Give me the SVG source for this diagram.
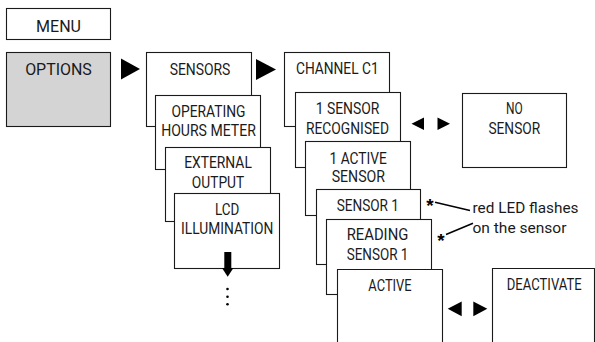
<svg xmlns="http://www.w3.org/2000/svg" width="595" height="342" viewBox="0 0 595 342">
<style>
.box{fill:#fff;stroke:#1a1a1a;stroke-width:1.1}
.gray{fill:#d4d4d4;stroke:#1a1a1a;stroke-width:1.1}
.t{font-family:Roboto,"DejaVu Sans",sans-serif;font-size:16px;fill:#1a1a1a;text-anchor:middle}
.n{font-family:Roboto,"DejaVu Sans",sans-serif;font-size:15px;fill:#1a1a1a}
.s{font-family:"Liberation Sans",Arial,sans-serif;font-size:19px;font-weight:bold;fill:#000;text-anchor:middle}
.arr{fill:#000}
.ln{stroke:#000;stroke-width:1.5;fill:none}
</style>
<rect width="595" height="342" fill="#fff"/>
<g id="menu"><rect class="box" x="6.5" y="8.5" width="104" height="31"/><text class="t" x="58.5" y="32" textLength="45" lengthAdjust="spacingAndGlyphs">MENU</text></g>
<g id="options"><rect class="gray" x="6.5" y="52.5" width="104" height="74"/><text class="t" x="58.5" y="75" textLength="66.7" lengthAdjust="spacingAndGlyphs">OPTIONS</text></g>
<g id="sensors"><rect class="box" x="146.5" y="52.5" width="105" height="74"/><text class="t" x="200" y="75" textLength="60.7" lengthAdjust="spacingAndGlyphs">SENSORS</text></g>
<g id="operating-hours-meter"><rect class="box" x="155.5" y="95.5" width="105" height="74"/><text class="t" x="208.5" y="117" textLength="74" lengthAdjust="spacingAndGlyphs">OPERATING</text><text class="t" x="208.5" y="136" textLength="94.7" lengthAdjust="spacingAndGlyphs">HOURS METER</text></g>
<g id="external-output"><rect class="box" x="165.5" y="147.5" width="105" height="74"/><text class="t" x="218" y="168" textLength="67.7" lengthAdjust="spacingAndGlyphs">EXTERNAL</text><text class="t" x="218" y="187.5" textLength="52.3" lengthAdjust="spacingAndGlyphs">OUTPUT</text></g>
<g id="lcd-illumination"><rect class="box" x="174.5" y="193.5" width="105" height="75"/><text class="t" x="227.2" y="215" textLength="24.3" lengthAdjust="spacingAndGlyphs">LCD</text><text class="t" x="227.2" y="234" textLength="92.3" lengthAdjust="spacingAndGlyphs">ILLUMINATION</text></g>
<g id="channel-c1"><rect class="box" x="284.5" y="52.5" width="105" height="74"/><text class="t" x="337.3" y="74" textLength="82.7" lengthAdjust="spacingAndGlyphs">CHANNEL C1</text></g>
<g id="sensor-recognised"><rect class="box" x="295.5" y="92.5" width="105" height="75"/><text class="t" x="347.5" y="114" textLength="63.7" lengthAdjust="spacingAndGlyphs">1 SENSOR</text><text class="t" x="347.5" y="133.5" textLength="83" lengthAdjust="spacingAndGlyphs">RECOGNISED</text></g>
<g id="no-sensor"><rect class="box" x="462.5" y="93.5" width="104" height="74"/><text class="t" x="514.3" y="113.5" textLength="16.7" lengthAdjust="spacingAndGlyphs">NO</text><text class="t" x="514.3" y="134" textLength="51.7" lengthAdjust="spacingAndGlyphs">SENSOR</text></g>
<g id="active-sensor"><rect class="box" x="305.5" y="141.5" width="105" height="74"/><text class="t" x="358.2" y="163.5" textLength="57.3" lengthAdjust="spacingAndGlyphs">1 ACTIVE</text><text class="t" x="358.3" y="182" textLength="53.3" lengthAdjust="spacingAndGlyphs">SENSOR</text></g>
<g id="sensor-1"><rect class="box" x="316.5" y="189.5" width="104" height="75"/><text class="t" x="367.8" y="211" textLength="62.3" lengthAdjust="spacingAndGlyphs">SENSOR 1</text></g>
<g id="reading-sensor-1"><rect class="box" x="326.5" y="219.5" width="105" height="75"/><text class="t" x="377.5" y="240" textLength="61.7" lengthAdjust="spacingAndGlyphs">READING</text><text class="t" x="377.5" y="259.5" textLength="61.7" lengthAdjust="spacingAndGlyphs">SENSOR 1</text></g>
<g id="active"><path class="box" d="M337.5,342 V269.5 H442.5 V342"/><text class="t" x="390" y="291" textLength="43.3" lengthAdjust="spacingAndGlyphs">ACTIVE</text></g>
<g id="deactivate"><path class="box" d="M492.5,342 V268.5 H594.5 V342"/><text class="t" x="544.2" y="289.5" textLength="75" lengthAdjust="spacingAndGlyphs">DEACTIVATE</text></g>
<g id="note"><text class="n" x="472.5" y="213" textLength="106" lengthAdjust="spacingAndGlyphs">red LED flashes</text><text class="n" x="472.5" y="233" textLength="94" lengthAdjust="spacingAndGlyphs">on the sensor</text>
<text class="s" x="430" y="212">*</text>
<text class="s" x="441" y="246.5">*</text></g>
<g id="connectors">
<polygon class="arr" points="121,58.5 140,69 121,79.5"/>
<polygon class="arr" points="256,59 276,69.5 256,80"/>
<polygon class="arr" points="424,117.5 411.5,123.7 424,130"/>
<polygon class="arr" points="437.5,117.5 450,123.7 437.5,130"/>
<polygon class="arr" points="461.7,301.5 447.7,308.8 461.7,316.2"/>
<polygon class="arr" points="473.3,301.5 487.3,308.8 473.3,316.2"/>
<rect class="arr" x="224.3" y="252" width="7" height="17"/>
<polygon class="arr" points="222,268 233.4,268 227.7,276.8"/>
<circle class="arr" cx="227.5" cy="289" r="1.3"/>
<circle class="arr" cx="227.5" cy="296.7" r="1.3"/>
<circle class="arr" cx="227.5" cy="304.3" r="1.3"/>
<line class="ln" x1="435" y1="202.3" x2="470" y2="210.5"/>
<line class="ln" x1="446" y1="234.5" x2="473" y2="223.3"/>
</g>
</svg>
